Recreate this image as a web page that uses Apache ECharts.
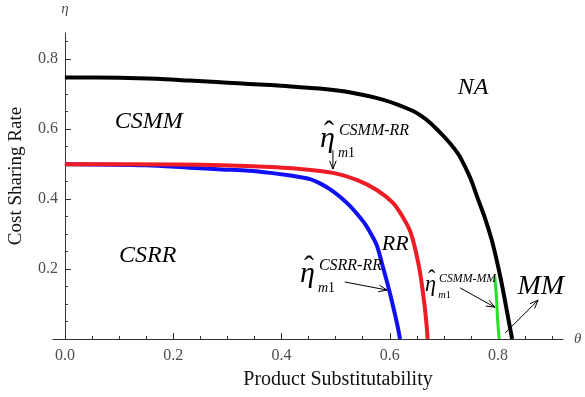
<!DOCTYPE html>
<html>
<head>
<meta charset="utf-8">
<script src="https://cdn.jsdelivr.net/npm/echarts@6/dist/echarts.min.js"></script>
<style>
  html, body { margin: 0; padding: 0; background: #fff; }
  #chart { width: 585px; height: 397px; }
</style>
</head>
<body>
<div id="chart"></div>
<script>
// Threshold curves of the cost sharing rate η against substitutability θ
const naBoundary = [
  [0, 0.748], [0.1, 0.747], [0.17, 0.744], [0.23, 0.739], [0.28, 0.735],
  [0.32, 0.731], [0.36, 0.728], [0.40, 0.724], [0.47, 0.716], [0.53, 0.704],
  [0.59, 0.683], [0.64, 0.654], [0.66, 0.636], [0.675, 0.618], [0.69, 0.595],
  [0.706, 0.569], [0.72, 0.543], [0.73, 0.52], [0.748, 0.463], [0.763, 0.40],
  [0.776, 0.345], [0.788, 0.285], [0.798, 0.222], [0.806, 0.165],
  [0.814, 0.10], [0.82, 0.05], [0.826, 0.0]
];
const csmmRR = [
  [0, 0.5], [0.21, 0.499], [0.29, 0.497], [0.38, 0.492], [0.42, 0.488],
  [0.495, 0.475], [0.54, 0.454], [0.576, 0.426], [0.606, 0.389],
  [0.624, 0.349], [0.637, 0.311], [0.645, 0.27], [0.656, 0.19],
  [0.664, 0.10], [0.668, 0.04], [0.670, 0]
];
const csrrRR = [
  [0, 0.5], [0.15, 0.497], [0.23, 0.49], [0.29, 0.485], [0.34, 0.481],
  [0.38, 0.475], [0.41, 0.469], [0.43, 0.464], [0.453, 0.457],
  [0.471, 0.445], [0.49, 0.428], [0.508, 0.407], [0.525, 0.383],
  [0.539, 0.359], [0.552, 0.334], [0.563, 0.307], [0.576, 0.268],
  [0.5875, 0.205], [0.598, 0.145], [0.607, 0.088], [0.614, 0.04], [0.619, 0]
];
const csmmMM = [
  [0.794, 0.178], [0.797, 0.12], [0.799, 0.06], [0.802, 0]
];

// Tick positions
const xMajorTicks = [0, 0.2, 0.4, 0.6, 0.8];
const xMinorTicks = [0.05, 0.1, 0.15, 0.25, 0.3, 0.35, 0.45, 0.5, 0.55, 0.65, 0.7, 0.75, 0.85, 0.9];
const yMajorTicks = [0.2, 0.4, 0.6, 0.8];
const yMinorTicks = [0.05, 0.1, 0.15, 0.25, 0.3, 0.35, 0.45, 0.5, 0.55, 0.65, 0.7, 0.75, 0.85];

// Region names, placed in (θ, η) space
const regionLabels = [
  { text: 'CSMM', at: [0.155, 0.62], size: 24 },
  { text: 'CSRR', at: [0.153, 0.237], size: 24 },
  { text: 'RR', at: [0.61, 0.271], size: 22 },
  { text: 'NA', at: [0.754, 0.72], size: 24 },
  { text: 'MM', at: [0.879, 0.149], size: 28 }
];

// η̂ threshold labels: anchor is the left end of the η baseline
const thresholdLabels = [
  { sup: 'CSMM-RR', at: [0.471, 0.545], scale: 1 },
  { sup: 'CSRR-RR', at: [0.434, 0.160], scale: 1 },
  { sup: 'CSMM-MM', at: [0.665, 0.136], scale: 0.74 }
];

// Pointer arrows: [θ tail, η tail, θ head, η head]
const arrows = [
  [0.495, 0.54, 0.495, 0.486],
  [0.517, 0.163, 0.595, 0.14],
  [0.730, 0.146, 0.794, 0.091],
  [0.813, 0.017, 0.874, 0.111]
];

const serif = '"Liberation Serif", "Times New Roman", serif';
const tickColor = '#4d4d4d';
const X_RANGE = [-0.022, 0.92];
const Y_RANGE = [0, 0.875];
const GRID = { left: 53, right: 22, top: 33, bottom: 58 };
// shift of the vertical axis from the grid edge to θ = 0
const yAxisShift = -(0 - X_RANGE[0]) / (X_RANGE[1] - X_RANGE[0]) * (585 - GRID.left - GRID.right);

const chart = echarts.init(document.getElementById('chart'));

function axisPair(isX, major, minor, range) {
  const base = {
    type: 'value',
    min: range[0],
    max: range[1],
    position: isX ? 'bottom' : 'left',
    offset: isX ? 0 : yAxisShift,
    splitLine: { show: false }
  };
  return [
    Object.assign({}, base, {
      axisLine: { show: true, onZero: false, lineStyle: { color: '#333', width: 1 } },
      axisTick: {
        show: true, inside: true, length: 6,
        customValues: major.filter(v => v > 0),
        lineStyle: { color: '#333', width: 1 }
      },
      axisLabel: {
        show: true,
        customValues: major,
        formatter: v => v.toFixed(1),
        fontFamily: serif,
        fontSize: 16,
        color: tickColor,
        margin: isX ? 9 : 7
      },
      name: isX ? 'θ' : 'η',
      nameLocation: 'end',
      nameGap: isX ? 11 : 16,
      nameTextStyle: {
        fontFamily: serif, fontStyle: 'italic', fontSize: 15, color: tickColor
      }
    }),
    Object.assign({}, base, {
      axisLine: { show: false, onZero: false },
      axisTick: {
        show: true, inside: true, length: 3,
        customValues: minor,
        lineStyle: { color: '#333', width: 1 }
      },
      axisLabel: { show: false }
    })
  ];
}

function lineSeries(data, color, width) {
  return {
    type: 'line',
    data: data,
    showSymbol: false,
    symbol: 'none',
    smooth: 0.3,
    lineStyle: { color: color, width: width, cap: 'butt', join: 'round' },
    silent: true,
    z: 3
  };
}

function arrowHead(p1, p2, len, spread) {
  const ang = Math.atan2(p2[1] - p1[1], p2[0] - p1[0]);
  const a1 = ang + Math.PI - spread, a2 = ang + Math.PI + spread;
  return [
    [p2[0] + len * Math.cos(a1), p2[1] + len * Math.sin(a1)],
    p2,
    [p2[0] + len * Math.cos(a2), p2[1] + len * Math.sin(a2)]
  ];
}

const option = {
  animation: false,
  backgroundColor: '#fff',
  grid: Object.assign({ containLabel: false }, GRID),
  xAxis: axisPair(true, xMajorTicks, xMinorTicks, X_RANGE),
  yAxis: axisPair(false, yMajorTicks, yMinorTicks, Y_RANGE),
  series: [
    lineSeries(csrrRR, '#1010f5', 4),
    lineSeries(csmmRR, '#ee1c25', 4),
    lineSeries(csmmMM, '#22e022', 3),
    lineSeries(naBoundary, '#000', 4),
    {
      type: 'custom',
      silent: true,
      clip: false,
      z: 5,
      data: arrows,
      encode: { x: [0, 2], y: [1, 3] },
      renderItem: function (params, api) {
        const p1 = api.coord([api.value(0), api.value(1)]);
        const p2 = api.coord([api.value(2), api.value(3)]);
        const style = { stroke: '#000', lineWidth: 1, fill: null };
        return {
          type: 'group',
          children: [
            { type: 'line', shape: { x1: p1[0], y1: p1[1], x2: p2[0], y2: p2[1] }, style: style },
            { type: 'polyline', shape: { points: arrowHead(p1, p2, 9, 0.38) }, style: style }
          ]
        };
      }
    },
    {
      type: 'custom',
      silent: true,
      clip: false,
      z: 6,
      data: regionLabels.map(r => r.at),
      renderItem: function (params, api) {
        const r = regionLabels[params.dataIndex];
        const p = api.coord([api.value(0), api.value(1)]);
        return {
          type: 'text',
          x: p[0], y: p[1],
          style: {
            text: r.text,
            font: 'italic ' + r.size + 'px ' + serif,
            fill: '#000',
            align: 'center',
            verticalAlign: 'middle'
          }
        };
      }
    },
    {
      type: 'custom',
      silent: true,
      clip: false,
      z: 6,
      data: thresholdLabels.map(t => t.at),
      renderItem: function (params, api) {
        const t = thresholdLabels[params.dataIndex];
        const s = t.scale;
        const p = api.coord([api.value(0), api.value(1)]);
        const etaSize = 30 * s, supSize = 16 * s, subSize = 14 * s;
        return {
          type: 'group',
          children: [
            {
              type: 'text', x: p[0], y: p[1] - 0.3 * etaSize,
              style: {
                text: '\u03B7', font: 'italic ' + etaSize + 'px ' + serif,
                fill: '#000', align: 'left', verticalAlign: 'middle'
              }
            },
            {
              type: 'text', x: p[0] + 9 * s, y: p[1] - 0.3 * etaSize - 6 * s,
              style: {
                text: '\u02C6', font: etaSize + 'px ' + serif,
                fill: '#000', align: 'center', verticalAlign: 'middle'
              }
            },
            {
              type: 'text', x: p[0] + 19 * s, y: p[1] - 12 * s - 0.32 * supSize,
              style: {
                text: t.sup, font: 'italic ' + supSize + 'px ' + serif,
                fill: '#000', align: 'left', verticalAlign: 'middle'
              }
            },
            {
              type: 'text', x: p[0] + 18 * s, y: p[1] + 9 * s - 0.3 * subSize,
              style: {
                text: '{m|m}{d|1}',
                align: 'left', verticalAlign: 'middle',
                rich: {
                  m: { fontFamily: serif, fontStyle: 'italic', fontSize: subSize, fill: '#000' },
                  d: { fontFamily: serif, fontSize: subSize, fill: '#000' }
                }
              }
            }
          ]
        };
      }
    }
  ],
  graphic: [
    {
      type: 'text',
      x: 16, y: 176,
      rotation: Math.PI / 2,
      style: {
        text: 'Cost Sharing Rate',
        font: '19px ' + serif,
        fill: '#111',
        align: 'center',
        verticalAlign: 'middle'
      }
    },
    {
      type: 'text',
      x: 338, y: 380,
      style: {
        text: 'Product Substitutability',
        font: '20px ' + serif,
        fill: '#111',
        align: 'center',
        verticalAlign: 'middle'
      }
    }
  ]
};

chart.setOption(option);
</script>
</body>
</html>
